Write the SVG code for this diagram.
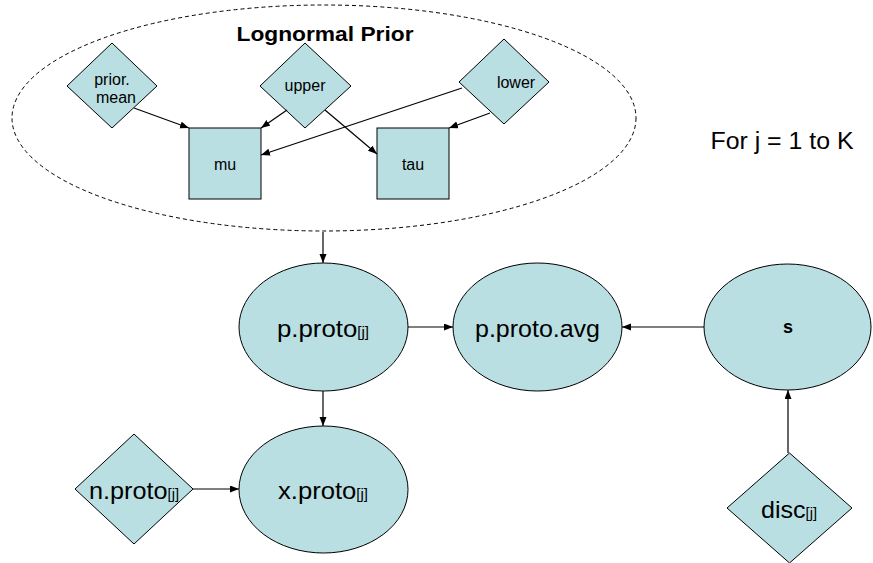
<svg xmlns="http://www.w3.org/2000/svg" width="873" height="563" viewBox="0 0 873 563">
<style>
.n{fill:#b9dfe2;stroke:#000;stroke-width:1}
.t{font-family:"Liberation Sans",Arial,sans-serif;fill:#000;text-anchor:middle}
.s{font-size:16px}
.m{font-size:24px}
.sub{font-size:14px}
.c line{stroke:#000;stroke-width:1.2;marker-end:url(#a)}
</style>
<defs>
<marker id="a" markerUnits="userSpaceOnUse" markerWidth="10" markerHeight="8" refX="9" refY="3.5" orient="auto">
<path d="M0,0 L9,3.5 L0,7 z" fill="#000"/>
</marker>
</defs>
<rect width="873" height="563" fill="#fff"/>
<g id="plate">
<ellipse cx="324" cy="118" rx="312" ry="113" fill="none" stroke="#000" stroke-width="1" stroke-dasharray="4,3"/>
<text class="t" x="325" y="41" font-size="20" font-weight="bold" textLength="177" lengthAdjust="spacingAndGlyphs">Lognormal Prior</text>
</g>
<g id="label-for">
<text class="t" x="782" y="149" font-size="23" textLength="143" lengthAdjust="spacingAndGlyphs">For j = 1 to K</text>
</g>
<g id="prior-mean">
<polygon class="n" points="112,43 157,86 112,128 67,86"/>
<text class="t s" x="112" y="85">prior.</text>
<text class="t s" x="116" y="103">mean</text>
</g>
<g id="upper">
<polygon class="n" points="305,43 351,86 305,128 260,86"/>
<text class="t s" x="305" y="91">upper</text>
</g>
<g id="lower">
<polygon class="n" points="504,39 549,82 504,124 459,82"/>
<text class="t s" x="516" y="88">lower</text>
</g>
<g id="mu">
<rect class="n" x="189" y="128" width="72" height="71"/>
<text class="t s" x="225" y="170">mu</text>
</g>
<g id="tau">
<rect class="n" x="377" y="128" width="72" height="71"/>
<text class="t s" x="413" y="170">tau</text>
</g>
<g id="p-proto">
<ellipse class="n" cx="323.5" cy="327" rx="84.5" ry="64"/>
<text class="t m" x="323" y="337" textLength="92" lengthAdjust="spacingAndGlyphs">p.proto<tspan class="sub">[j]</tspan></text>
</g>
<g id="p-proto-avg">
<ellipse class="n" cx="537.5" cy="327" rx="84.5" ry="64"/>
<text class="t m" x="537.5" y="337" textLength="125" lengthAdjust="spacingAndGlyphs">p.proto.avg</text>
</g>
<g id="s">
<ellipse class="n" cx="787.5" cy="327" rx="83.5" ry="63"/>
<text class="t" x="788" y="333" font-size="18" font-weight="bold">s</text>
</g>
<g id="x-proto">
<ellipse class="n" cx="323.5" cy="489.5" rx="84.5" ry="63.5"/>
<text class="t m" x="323" y="499" textLength="90" lengthAdjust="spacingAndGlyphs">x.proto<tspan class="sub">[j]</tspan></text>
</g>
<g id="n-proto">
<polygon class="n" points="134,434 193,489 134,544 75,489"/>
<text class="t m" x="134" y="499" textLength="90" lengthAdjust="spacingAndGlyphs">n.proto<tspan class="sub">[j]</tspan></text>
</g>
<g id="disc">
<polygon class="n" points="789.5,453 852,508 789.5,563 727,508"/>
<text class="t m" x="789" y="518" textLength="56" lengthAdjust="spacingAndGlyphs">disc<tspan class="sub">[j]</tspan></text>
</g>
<g id="connectors" class="c">
<line x1="134" y1="108" x2="189" y2="128"/>
<line x1="287" y1="110" x2="261" y2="128"/>
<line x1="325" y1="110" x2="377" y2="154"/>
<line x1="462" y1="88" x2="261" y2="155"/>
<line x1="490" y1="113" x2="449" y2="128"/>
<line x1="323" y1="232" x2="323" y2="263"/>
<line x1="408" y1="327" x2="453" y2="327"/>
<line x1="704" y1="327" x2="622" y2="327"/>
<line x1="323" y1="391" x2="323" y2="426"/>
<line x1="193" y1="489" x2="239" y2="489"/>
<line x1="788" y1="453" x2="788" y2="390"/>
</g>
</svg>
